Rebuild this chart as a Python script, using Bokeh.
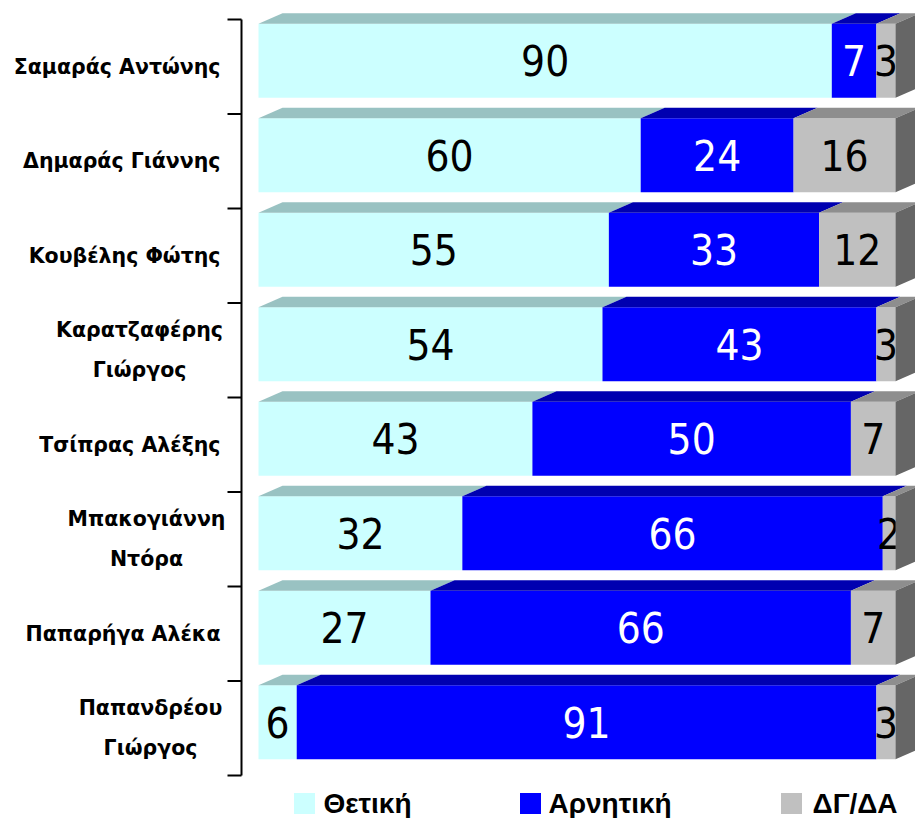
from bokeh.plotting import figure
from bokeh.models import Range1d, ColumnDataSource
from bokeh.core.properties import value
from bokeh.embed import file_html
from bokeh.resources import INLINE

# ---------------- data ----------------
names = ["Σαμαράς Αντώνης", "Δημαράς Γιάννης", "Κουβέλης Φώτης", "Καρατζαφέρης\nΓιώργος",
         "Τσίπρας Αλέξης", "Μπακογιάννη\nΝτόρα", "Παπαρήγα Αλέκα", "Παπανδρέου\nΓιώργος"]
positive = [90, 60, 55, 54, 43, 32, 27, 6]
negative = [7, 24, 33, 43, 50, 66, 66, 91]
dk_na = [3, 16, 12, 3, 7, 2, 7, 3]
series_names = ["Θετική", "Αρνητική", "ΔΓ/ΔΑ"]

# ---------------- layout helpers (image pixels -> data units) ----------------
W, H = 915, 818
PX0, PXU = 258.0, 6.37        # image x of value 0, pixels per percent
PY0, PYU = 66.25, 94.5        # image y of first category centre, pixels per category


def xd(px):
    return (px - PX0) / PXU


def yd(py):
    return (py - PY0) / PYU


DX = 24 / PXU
DY = 10.5 / PYU
FRONT_TOP = -43 / PYU
FRONT_BOT = 31 / PYU

front_cols = ["#CCFFFF", "#0000FF", "#C0C0C0"]
top_cols = ["#99C2C2", "#0000B0", "#8E8E8E"]
side_col = "#666666"
text_cols = ["black", "white", "black"]
NUM_FONT = "Liberation Sans Narrow, DejaVu Sans Condensed, Roboto Condensed, Roboto"

p = figure(width=W, height=H, output_backend="svg", toolbar_location=None,
           x_range=Range1d(xd(0), xd(W)), y_range=Range1d(yd(H), yd(0)),
           min_border=0, min_border_left=0, min_border_right=0,
           min_border_top=0, min_border_bottom=0)
p.axis.visible = False
p.grid.visible = False
p.outline_line_color = None
p.background_fill_color = "white"
p.border_fill_color = "white"

series = [positive, negative, dk_na]
n = len(names)
cum = [0.0] * n
for s, vals in enumerate(series):
    lefts = cum[:]
    rights = [l + v for l, v in zip(lefts, vals)]
    cum = rights
    ys = list(range(n))
    src = ColumnDataSource(dict(
        left=lefts, right=rights,
        top=[i + FRONT_TOP for i in ys], bottom=[i + FRONT_BOT for i in ys],
        xc=[(l + r) / 2 for l, r in zip(lefts, rights)],
        yc=[i + (FRONT_TOP + FRONT_BOT) / 2 for i in ys],
        lab=[str(v) for v in vals]))
    # front faces
    p.quad(left="left", right="right", top="top", bottom="bottom", source=src,
           fill_color=front_cols[s], line_color=None)
    # top faces
    txs = [[l, r, r + DX, l + DX] for l, r in zip(lefts, rights)]
    tys = [[i + FRONT_TOP, i + FRONT_TOP, i + FRONT_TOP - DY, i + FRONT_TOP - DY] for i in ys]
    p.patches(txs, tys, fill_color=top_cols[s], line_color=None)
    # value labels
    p.text(x="xc", y="yc", text="lab", source=src, text_align="center",
           text_baseline="middle", text_color=text_cols[s],
           text_font=value(NUM_FONT), text_font_size="42px")

# right side faces of the last segment
sxs = [[r, r + DX, r + DX, r] for r in cum]
sys_ = [[i + FRONT_TOP, i + FRONT_TOP - DY, i + FRONT_BOT - DY, i + FRONT_BOT] for i in range(n)]
p.patches(sxs, sys_, fill_color=side_col, line_color=None)

# category axis line with ticks at band edges
edges = [i - 0.5 for i in range(n + 1)]
p.segment(x0=[xd(241)], y0=[edges[0]], x1=[xd(241)], y1=[edges[-1]], line_color="black", line_width=2)
p.segment(x0=[xd(227)] * len(edges), y0=edges, x1=[xd(241)] * len(edges), y1=edges,
          line_color="black", line_width=2)

# category labels
single = [i for i, nm in enumerate(names) if "\n" not in nm]
multi = [i for i, nm in enumerate(names) if "\n" in nm]
p.text(x=[xd(220)] * len(single), y=single, text=[names[i] for i in single],
       text_align="right", text_baseline="middle", text_color="black",
       text_font=value("DejaVu Sans"), text_font_style="bold", text_font_size="20.5px")
multi_cx = {3: 139, 5: 146, 7: 150}
p.text(x=[xd(multi_cx[i]) for i in multi], y=multi, text=[names[i] for i in multi],
       text_align="center", text_baseline="middle", text_color="black", text_line_height=1.65,
       text_font=value("DejaVu Sans"), text_font_style="bold", text_font_size="20.5px")

# legend
leg_sq_x = [304, 530, 791]
leg_tx_x = [323, 548, 812]
leg_y = 803
p.scatter(x=[xd(v) for v in leg_sq_x], y=[yd(leg_y)] * 3, marker="square", size=21,
          fill_color=front_cols, line_color=None)
p.text(x=[xd(v) for v in leg_tx_x], y=[yd(leg_y)] * 3, text=series_names,
       text_align="left", text_baseline="middle", text_color="black",
       text_font=value("Liberation Sans"), text_font_style="bold", text_font_size="28px")

open("out.html", "w").write(file_html(p, INLINE))
